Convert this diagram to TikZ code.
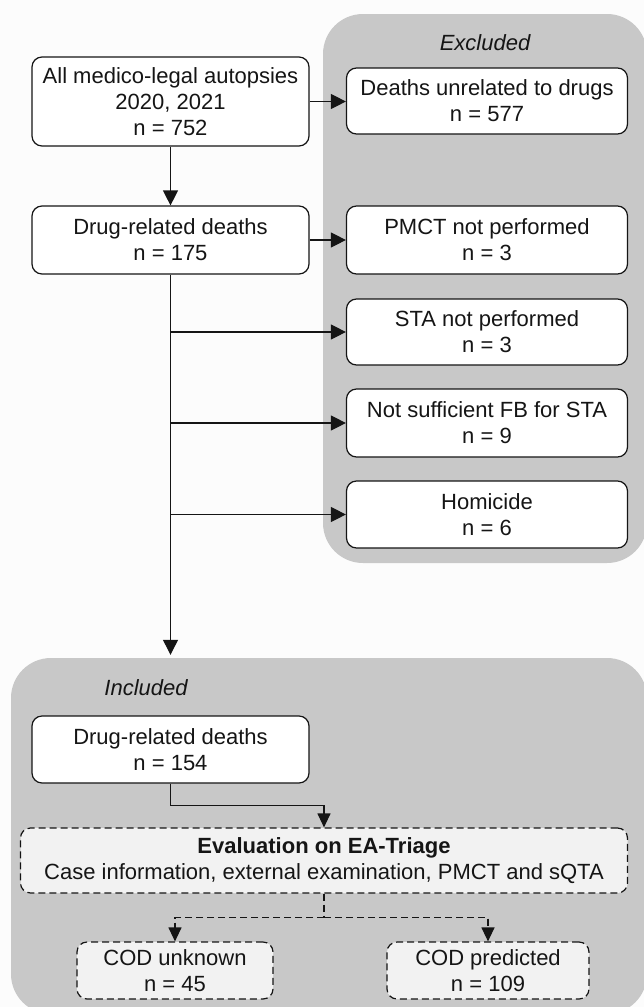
\documentclass[tikz,border=0pt]{standalone}
\usepackage{fontspec}
\setmainfont{Liberation Sans}
\usetikzlibrary{arrows.meta}
\definecolor{panelgray}{HTML}{C8C8C8}
\definecolor{lightfill}{HTML}{F2F2F2}
\definecolor{bgcol}{HTML}{FCFCFC}
\definecolor{ink}{HTML}{151515}
\begin{document}
\begin{tikzpicture}[x=1pt,y=-1pt,
  txt/.style={font=\fontsize{22}{26}\selectfont, text=ink},
  box/.style={txt, draw=ink, fill=white, rounded corners=10pt, line width=1.2pt,
    align=center, inner sep=0pt},
  dbox/.style={box, fill=lightfill, dash pattern=on 7pt off 4pt},
  panel/.style={fill=panelgray, draw=none, rounded corners=40pt, inner sep=0pt},
  arr/.style={draw=ink, line width=1.2pt, -{Triangle[length=15pt,width=15pt]}},
  sarr/.style={draw=ink, line width=1.2pt, -{Triangle[length=14pt,width=13pt]}},
  darr/.style={sarr, dash pattern=on 7pt off 4pt}
]
\useasboundingbox (0,0) rectangle (644,1007);
\fill[bgcol] (0,0) rectangle (644,1007);
% panels
\node[panel, minimum width=324pt, minimum height=549pt] (excl) at (485,288.5) {};
\node[panel, minimum width=636pt, minimum height=356pt] (incl) at (329,836) {};
\node[txt, font=\fontsize{22}{26}\selectfont\itshape] (exlab) at (485,43) {Excluded};
\node[txt, font=\fontsize{22}{26}\selectfont\itshape] (inlab) at (146,688) {Included};
% left column
\node[box, minimum width=277pt, minimum height=89pt] (A) at (170.5,101.5)
  {All medico-legal autopsies\\2020, 2021\\n = 752};
\node[box, minimum width=277pt, minimum height=68pt] (C) at (170.5,240)
  {Drug-related deaths\\n = 175};
% excluded boxes
\node[box, minimum width=281pt, minimum height=66pt] (B) at (487,101)
  {Deaths unrelated to drugs\\n = 577};
\node[box, minimum width=281pt, minimum height=68pt] (D) at (487,240)
  {PMCT not performed\\n = 3};
\node[box, minimum width=281pt, minimum height=66pt] (E) at (487,332)
  {STA not performed\\n = 3};
\node[box, minimum width=281pt, minimum height=68pt] (F) at (487,423)
  {Not sufficient FB for STA\\n = 9};
\node[box, minimum width=281pt, minimum height=67pt] (G) at (487,514.5)
  {Homicide\\n = 6};
% included boxes
\node[box, minimum width=277pt, minimum height=67pt] (H) at (170.5,749.5)
  {Drug-related deaths\\n = 154};
\node[dbox, minimum width=607pt, minimum height=65pt] (Ev) at (324,860.5)
  {\textbf{Evaluation on EA-Triage}\\Case information, external examination, PMCT and sQTA};
\node[dbox, minimum width=196pt, minimum height=57pt] (U) at (175,970.5)
  {COD unknown\\n = 45};
\node[dbox, minimum width=202pt, minimum height=57pt] (P) at (488,970.5)
  {COD predicted\\n = 109};
% connectors
\draw[arr] (A.east) -- (A.east -| B.west);
\draw[arr] (A.south) -- (C.north);
\draw[arr] (C.east) -- (D.west);
\draw[arr] (C.south) -- ([yshift=3pt]C.south |- incl.north);
\draw[arr] (C.south |- E.west) -- (E.west);
\draw[arr] (C.south |- F.west) -- (F.west);
\draw[arr] (C.south |- G.west) -- (G.west);
\draw[sarr] (H.south) -- ++(0,22) -| (Ev.north);
\coordinate (j) at ([yshift=-24pt]Ev.south);
\draw[draw=ink, line width=1.2pt, dash pattern=on 7pt off 4pt] (Ev.south) -- (j);
\draw[darr] (j) -| (U.north);
\draw[darr] (j) -| (P.north);
\end{tikzpicture}
\end{document}
